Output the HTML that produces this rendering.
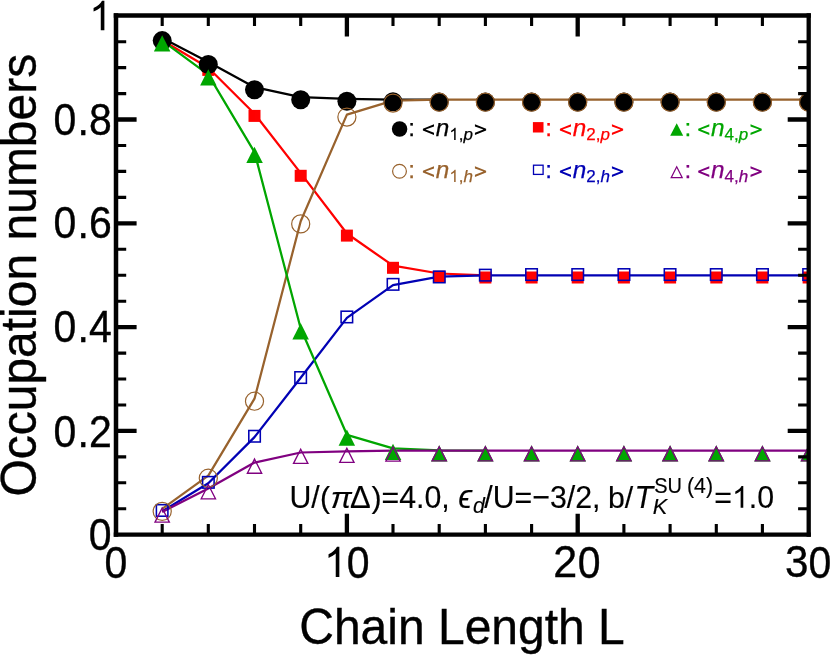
<!DOCTYPE html>
<html><head><meta charset="utf-8"><title>Occupation numbers</title>
<style>html,body{margin:0;padding:0;background:#fff}svg{display:block;will-change:transform;opacity:0.999}text{font-family:"Liberation Sans",sans-serif;stroke:#000;stroke-width:.35px}.lg text{stroke:var(--c);stroke-width:.25px}.i{font-style:italic}</style></head><body>
<svg width="830" height="655" viewBox="0 0 830 655">
<rect width="830" height="655" fill="#fff"/>
<defs><clipPath id="c"><rect x="116.0" y="15.5" width="692.7" height="519.2"/></clipPath></defs>
<g clip-path="url(#c)">
<g fill="none" stroke-width="2.25" stroke-linejoin="round" stroke-linecap="butt">
<polyline stroke="#ff0000" points="162.2,40.3 208.3,67.8 254.5,113.8 300.7,173.1 346.9,233.5 393.0,265.7 439.2,273.5 485.4,275.4"/>
<polyline stroke="#0000b4" points="162.2,511.3 208.3,483.2 254.5,437.1 300.7,377.7 346.9,317.9 393.0,285.2 439.2,276.7 485.4,275.4 531.6,275.4 577.7,275.4 623.9,275.4 670.1,275.4 716.3,275.4 762.4,275.4 808.6,275.4"/>
<polyline stroke="#000000" points="162.2,38.1 208.3,61.9 254.5,87.2 300.7,97.2 346.9,98.8 393.0,99.6 439.2,99.6"/>
<polyline stroke="#98622d" points="162.2,508.9 208.3,475.6 254.5,398.7 300.7,221.3 346.9,114.6 393.0,100.6 439.2,99.7 485.4,99.7 531.6,99.7 577.7,99.7 623.9,99.7 670.1,99.7 716.3,99.7 762.4,99.7 808.6,99.7"/>
<polyline stroke="#00a600" points="162.2,40.7 208.3,74.6 254.5,152.1 300.7,328.5 346.9,434.8 393.0,448.3 439.2,450.3 485.4,450.7"/>
<polyline stroke="#800080" points="162.2,511.9 208.3,488.6 254.5,462.6 300.7,452.5 346.9,451.4 393.0,450.7 439.2,450.7 485.4,450.7 531.6,450.7 577.7,450.7 623.9,450.7 670.1,450.7 716.3,450.7 762.4,450.7 808.6,450.7"/>
</g>
<g fill="#ff0000"><rect x="156.2" y="36.4" width="12.0" height="12.0"/><rect x="202.3" y="63.9" width="12.0" height="12.0"/><rect x="248.5" y="109.9" width="12.0" height="12.0"/><rect x="294.7" y="169.8" width="12.0" height="12.0"/><rect x="340.9" y="229.6" width="12.0" height="12.0"/><rect x="387.0" y="261.8" width="12.0" height="12.0"/><rect x="433.2" y="270.7" width="12.0" height="12.0"/><rect x="479.4" y="271.5" width="12.0" height="12.0"/><rect x="525.6" y="271.5" width="12.0" height="12.0"/><rect x="571.7" y="271.5" width="12.0" height="12.0"/><rect x="617.9" y="271.5" width="12.0" height="12.0"/><rect x="664.1" y="271.5" width="12.0" height="12.0"/><rect x="710.3" y="271.5" width="12.0" height="12.0"/><rect x="756.4" y="271.5" width="12.0" height="12.0"/><rect x="802.6" y="271.5" width="12.0" height="12.0"/></g>
<g fill="none" stroke="#0000b4" stroke-width="1.55"><rect x="156.4" y="504.7" width="11.5" height="11.5"/><rect x="202.6" y="476.6" width="11.5" height="11.5"/><rect x="248.8" y="430.5" width="11.5" height="11.5"/><rect x="294.9" y="371.8" width="11.5" height="11.5"/><rect x="341.1" y="311.2" width="11.5" height="11.5"/><rect x="387.3" y="278.6" width="11.5" height="11.5"/><rect x="433.5" y="271.2" width="11.5" height="11.5"/><rect x="479.6" y="269.4" width="11.5" height="11.5"/><rect x="525.8" y="268.8" width="11.5" height="11.5"/><rect x="572.0" y="268.8" width="11.5" height="11.5"/><rect x="618.2" y="268.8" width="11.5" height="11.5"/><rect x="664.3" y="268.8" width="11.5" height="11.5"/><rect x="710.5" y="268.8" width="11.5" height="11.5"/><rect x="756.7" y="268.8" width="11.5" height="11.5"/><rect x="802.9" y="268.8" width="11.5" height="11.5"/></g>
<g fill="#000000"><circle cx="162.2" cy="40.6" r="9.5"/><circle cx="208.3" cy="64.5" r="9.5"/><circle cx="254.5" cy="89.8" r="9.5"/><circle cx="300.7" cy="99.8" r="9.5"/><circle cx="346.9" cy="101.3" r="9.5"/><circle cx="393.0" cy="101.8" r="9.5"/><circle cx="439.2" cy="102.1" r="9.5"/><circle cx="485.4" cy="102.1" r="9.5"/><circle cx="531.6" cy="102.1" r="9.5"/><circle cx="577.7" cy="102.1" r="9.5"/><circle cx="623.9" cy="102.1" r="9.5"/><circle cx="670.1" cy="102.1" r="9.5"/><circle cx="716.3" cy="102.1" r="9.5"/><circle cx="762.4" cy="102.1" r="9.5"/><circle cx="808.6" cy="102.1" r="9.5"/></g>
<g fill="none" stroke="#98622d" stroke-width="1.2"><circle cx="162.2" cy="511.4" r="9.05"/><circle cx="208.3" cy="478.2" r="9.05"/><circle cx="254.5" cy="401.2" r="9.05"/><circle cx="300.7" cy="223.9" r="9.05"/><circle cx="346.9" cy="117.1" r="9.05"/><circle cx="393.0" cy="103.1" r="9.05"/><circle cx="439.2" cy="102.2" r="9.05"/><circle cx="485.4" cy="102.2" r="9.05"/><circle cx="531.6" cy="102.2" r="9.05"/><circle cx="577.7" cy="102.2" r="9.05"/><circle cx="623.9" cy="102.2" r="9.05"/><circle cx="670.1" cy="102.2" r="9.05"/><circle cx="716.3" cy="102.2" r="9.05"/><circle cx="762.4" cy="102.2" r="9.05"/><circle cx="808.6" cy="102.2" r="9.05"/></g>
<g fill="#00a600"><path d="M162.2 35.3L170.4 51.6H153.9Z"/><path d="M208.3 69.2L216.6 85.5H200.1Z"/><path d="M254.5 146.7L262.8 163.0H246.3Z"/><path d="M300.7 323.1L308.9 339.4H292.4Z"/><path d="M346.9 429.4L355.1 445.7H338.6Z"/><path d="M393.0 443.8L401.3 460.1H384.8Z"/><path d="M439.2 445.2L447.5 461.5H431.0Z"/><path d="M485.4 445.3L493.6 461.6H477.1Z"/><path d="M531.6 445.3L539.8 461.6H523.3Z"/><path d="M577.7 445.3L586.0 461.6H569.5Z"/><path d="M623.9 445.3L632.2 461.6H615.7Z"/><path d="M670.1 445.3L678.3 461.6H661.8Z"/><path d="M716.3 445.3L724.5 461.6H708.0Z"/><path d="M762.4 445.3L770.7 461.6H754.2Z"/><path d="M808.6 445.3L816.9 461.6H800.4Z"/></g>
<g fill="none" stroke="#800080" stroke-width="1.35" stroke-linejoin="miter"><path d="M162.17 507.99L169.33 522.12H155.02Z"/><path d="M208.35 484.69L215.50 498.82H201.20Z"/><path d="M254.52 459.09L261.67 473.22H247.37Z"/><path d="M300.70 449.29L307.85 463.42H293.54Z"/><path d="M346.87 448.29L354.02 462.42H339.72Z"/><path d="M393.04 446.99L400.20 461.12H385.89Z"/><path d="M439.22 446.79L446.37 460.92H432.07Z"/><path d="M485.39 446.79L492.54 460.92H478.24Z"/><path d="M531.57 446.79L538.72 460.92H524.41Z"/><path d="M577.74 446.79L584.89 460.92H570.59Z"/><path d="M623.91 446.79L631.07 460.92H616.76Z"/><path d="M670.09 446.79L677.24 460.92H662.94Z"/><path d="M716.26 446.79L723.41 460.92H709.11Z"/><path d="M762.44 446.79L769.59 460.92H755.28Z"/><path d="M808.61 446.79L815.76 460.92H801.46Z"/></g>
</g>
<g stroke="#000" fill="none" stroke-linecap="butt">
<path stroke-width="4.5" d="M116.0 13.15V536.8000000000001"/>
<path stroke-width="4.3" d="M808.7 13.15V536.8000000000001"/>
<path stroke-width="4.7" d="M113.75 15.5H810.85"/>
<path stroke-width="4.2" d="M113.75 534.7H810.85"/>
<path stroke-width="4.3" d="M346.9 534.7v-21.0M346.9 15.5v21.0M577.7 534.7v-21.0M577.7 15.5v21.0M116.0 430.9h20.6M808.7 430.9h-21.0M116.0 327.1h20.6M808.7 327.1h-21.0M116.0 223.3h20.6M808.7 223.3h-21.0M116.0 119.5h20.6M808.7 119.5h-21.0"/>
<path stroke-width="3.1" d="M162.2 534.7v-10.6M162.2 15.5v10.6M208.3 534.7v-10.6M208.3 15.5v10.6M254.5 534.7v-10.6M254.5 15.5v10.6M300.7 534.7v-10.6M300.7 15.5v10.6M393.0 534.7v-10.6M393.0 15.5v10.6M439.2 534.7v-10.6M439.2 15.5v10.6M485.4 534.7v-10.6M485.4 15.5v10.6M531.6 534.7v-10.6M531.6 15.5v10.6M623.9 534.7v-10.6M623.9 15.5v10.6M670.1 534.7v-10.6M670.1 15.5v10.6M716.3 534.7v-10.6M716.3 15.5v10.6M762.4 534.7v-10.6M762.4 15.5v10.6M116.0 508.8h10.2M808.7 508.8h-10.6M116.0 482.8h10.2M808.7 482.8h-10.6M116.0 456.9h10.2M808.7 456.9h-10.6M116.0 405.0h10.2M808.7 405.0h-10.6M116.0 379.0h10.2M808.7 379.0h-10.6M116.0 353.1h10.2M808.7 353.1h-10.6M116.0 301.2h10.2M808.7 301.2h-10.6M116.0 275.2h10.2M808.7 275.2h-10.6M116.0 249.3h10.2M808.7 249.3h-10.6M116.0 197.4h10.2M808.7 197.4h-10.6M116.0 171.4h10.2M808.7 171.4h-10.6M116.0 145.5h10.2M808.7 145.5h-10.6M116.0 93.6h10.2M808.7 93.6h-10.6M116.0 67.6h10.2M808.7 67.6h-10.6M116.0 41.7h10.2M808.7 41.7h-10.6"/>
</g>
<defs><path id="one" d="M763 0H583V1147Q518 1085 412.5 1023T223 930V1104Q373 1174.5 485.5 1275T645 1470H763Z"/></defs>
<text transform="translate(111.50 550.40) scale(1 1.07)" font-size="41" text-anchor="end" >0</text>
<text transform="translate(111.70 446.50) scale(1 1.07)" font-size="41" text-anchor="end" >.2</text>
<text transform="translate(76.31 446.50) scale(1 1.07)" font-size="41" text-anchor="end" >0</text>
<text transform="translate(111.70 342.20) scale(1 1.07)" font-size="41" text-anchor="end" >.4</text>
<text transform="translate(76.31 342.20) scale(1 1.07)" font-size="41" text-anchor="end" >0</text>
<text transform="translate(111.70 238.30) scale(1 1.07)" font-size="41" text-anchor="end" >.6</text>
<text transform="translate(76.31 238.30) scale(1 1.07)" font-size="41" text-anchor="end" >0</text>
<text transform="translate(111.70 134.50) scale(1 1.07)" font-size="41" text-anchor="end" >.8</text>
<text transform="translate(76.31 134.50) scale(1 1.07)" font-size="41" text-anchor="end" >0</text>
<use href="#one" fill="#000" transform="translate(89.10 30.20) scale(0.02002 -0.02002)"/>
<text transform="translate(116.00 577.80) scale(1 1.07)" font-size="41" text-anchor="middle" >0</text>
<text transform="translate(577.14 577.20) scale(1.05 1.065)" font-size="41" text-anchor="end">2</text>
<text transform="translate(577.64 577.60) scale(1 1.07)" font-size="41" text-anchor="start" >0</text>
<text transform="translate(808.51 577.20) scale(1.03 1.075)" font-size="41" text-anchor="end">3</text>
<text transform="translate(808.41 577.60) scale(1 1.07)" font-size="41" text-anchor="start" >0</text>
<use href="#one" fill="#000" transform="translate(324.07 577.10) scale(0.02002 -0.02062)"/>
<text transform="translate(346.87 577.80) scale(1 1.07)" font-size="41" text-anchor="start" >0</text>
<text transform="translate(462 643.6) scale(1 1.03)" font-size="48" text-anchor="middle">Chain Length L</text>
<text transform="translate(35.5 275.2) rotate(-90) scale(1 1.03)" font-size="48" text-anchor="middle">Occupation numbers</text>
<circle cx="399.6" cy="129.0" r="7.75" fill="#000000"/>
<g fill="#000000" class="lg" style="--c:#000000">
<text x="408.20" y="136.10" font-size="24.3">:</text>
<text x="435.79" y="135.9" font-size="24.3" class="i">n</text>
<use href="#one" fill="#000000" transform="translate(449.30 139.90) scale(0.00830 -0.00830)"/>
<text x="458.75" y="139.9" font-size="17.0">,<tspan class="i">p</tspan></text>
</g>
<path fill="#000000" d="M434.00 124.30L422.90 128.65V130.55L434.00 134.90V132.75L425.60 129.60L434.00 126.45ZM474.93 124.30L486.13 128.65V130.55L474.93 134.90V132.75L483.43 129.60L474.93 126.45Z"/>
<circle cx="399.5" cy="171.3" r="6.9" fill="none" stroke="#98622d" stroke-width="1.2"/>
<g fill="#98622d" class="lg" style="--c:#98622d">
<text x="408.20" y="178.10" font-size="24.3">:</text>
<text x="435.79" y="177.9" font-size="24.3" class="i">n</text>
<use href="#one" fill="#98622d" transform="translate(449.30 181.90) scale(0.00830 -0.00830)"/>
<text x="458.75" y="181.9" font-size="17.0">,<tspan class="i">h</tspan></text>
</g>
<path fill="#98622d" d="M434.00 166.30L422.90 170.65V172.55L434.00 176.90V174.75L425.60 171.60L434.00 168.45ZM474.93 166.30L486.13 170.65V172.55L474.93 176.90V174.75L483.43 171.60L474.93 168.45Z"/>
<rect x="532.9" y="122.1" width="10.6" height="10.4" fill="#ff0000"/>
<g fill="#ff0000" class="lg" style="--c:#ff0000">
<text x="545.20" y="136.10" font-size="24.3">:</text>
<text x="572.79" y="135.9" font-size="24.3" class="i">n</text>
<text x="586.30" y="139.9" font-size="17.0">2,<tspan class="i">p</tspan></text>
</g>
<path fill="#ff0000" d="M571.00 124.30L559.90 128.65V130.55L571.00 134.90V132.75L562.60 129.60L571.00 126.45ZM611.93 124.30L623.13 128.65V130.55L611.93 134.90V132.75L620.43 129.60L611.93 126.45Z"/>
<rect x="533.5" y="165.2" width="9.6" height="9.2" fill="none" stroke="#0000b4" stroke-width="1.3"/>
<g fill="#0000b4" class="lg" style="--c:#0000b4">
<text x="545.20" y="178.10" font-size="24.3">:</text>
<text x="572.79" y="177.9" font-size="24.3" class="i">n</text>
<text x="586.30" y="181.9" font-size="17.0">2,<tspan class="i">h</tspan></text>
</g>
<path fill="#0000b4" d="M571.00 166.30L559.90 170.65V172.55L571.00 176.90V174.75L562.60 171.60L571.00 168.45ZM611.93 166.30L623.13 170.65V172.55L611.93 176.90V174.75L620.43 171.60L611.93 168.45Z"/>
<path d="M676.7 123.2l6.5 12.6h-13z" fill="#00a600"/>
<g fill="#00a600" class="lg" style="--c:#00a600">
<text x="684.50" y="136.10" font-size="24.3">:</text>
<text x="711.09" y="135.9" font-size="24.3" class="i">n</text>
<text x="724.60" y="139.9" font-size="17.0">4,<tspan class="i">p</tspan></text>
</g>
<path fill="#00a600" d="M709.30 124.30L698.20 128.65V130.55L709.30 134.90V132.75L700.90 129.60L709.30 126.45ZM750.53 124.30L761.73 128.65V130.55L750.53 134.90V132.75L759.03 129.60L750.53 126.45Z"/>
<path d="M676.70 166.83L682.22 177.70H671.18Z" fill="none" stroke="#800080" stroke-width="1.2"/>
<g fill="#800080" class="lg" style="--c:#800080">
<text x="684.50" y="178.10" font-size="24.3">:</text>
<text x="711.09" y="177.9" font-size="24.3" class="i">n</text>
<text x="724.60" y="181.9" font-size="17.0">4,<tspan class="i">h</tspan></text>
</g>
<path fill="#800080" d="M709.30 166.30L698.20 170.65V172.55L709.30 176.90V174.75L700.90 171.60L709.30 168.45ZM750.53 166.30L761.73 170.65V172.55L750.53 176.90V174.75L759.03 171.60L750.53 168.45Z"/>
<text transform="translate(289.50 507.80) scale(1 1.05)" font-size="30.3" style="stroke-width:.15px" >U/</text>
<text transform="translate(320.10 507.80) scale(1 0.98)" font-size="30.3" style="stroke-width:.15px" >(</text>
<text transform="translate(330.80 507.80) scale(1 0.91)" font-size="31.5" style="stroke-width:.15px" class="i">π</text>
<text transform="translate(350.00 507.80) scale(1 0.995)" font-size="31" style="stroke-width:.15px" >Δ</text>
<text transform="translate(371.60 507.80) scale(1 0.98)" font-size="30.3" style="stroke-width:.15px" >)</text>
<text transform="translate(381.49 507.80) scale(1 1.05)" font-size="30.3" style="stroke-width:.15px" >=4.0,</text>
<text transform="translate(458.30 507.80) scale(1 1.03)" font-size="31.5" style="stroke-width:.15px" class="i">ϵ</text>
<text transform="translate(473.00 513.00) scale(1 1.0)" font-size="21.3" style="stroke-width:.15px" class="i">d</text>
<text transform="translate(484.30 507.80) scale(1 1.05)" font-size="30.3" style="stroke-width:.15px" >/U=−3/2,</text>
<text transform="translate(608.00 507.80) scale(1 1.0)" font-size="30.3" style="stroke-width:.15px" >b/</text>
<text transform="translate(634.60 507.80) scale(1 1.05)" font-size="30.3" style="stroke-width:.15px" class="i">T</text>
<text transform="translate(652.80 514.20) scale(1 1.05)" font-size="21.8" style="stroke-width:.15px" class="i">K</text>
<text transform="translate(654.20 492.90) scale(1 1.1)" font-size="20" style="stroke-width:.15px" >SU</text>
<text transform="translate(687.00 492.90) scale(1 1.06)" font-size="21.3" style="stroke-width:.15px" >(4)</text>
<text transform="translate(714.30 507.80) scale(1 1.05)" font-size="30.3" style="stroke-width:.15px" >=</text>
<use href="#one" fill="#000" transform="translate(732.00 507.80) scale(0.01479 -0.01479)"/>
<text transform="translate(748.84 507.80) scale(1 1.05)" font-size="30.3" style="stroke-width:.15px" >.0</text>
</svg></body></html>
